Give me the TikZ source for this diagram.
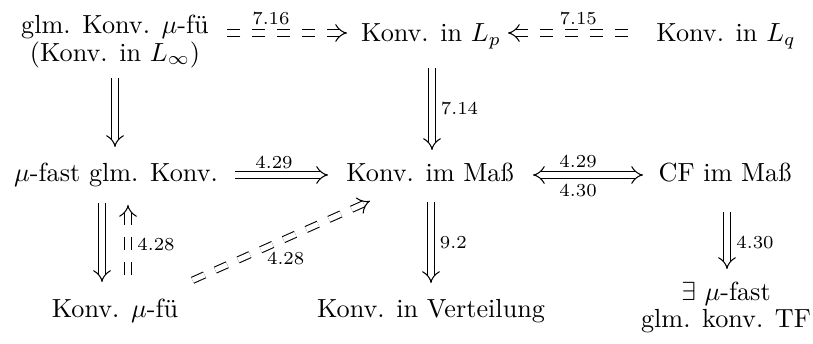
\documentclass[tikz,border=0pt]{standalone}
\usepackage{fontspec}
\usetikzlibrary{arrows.meta,calc}
\begin{document}
\begin{tikzpicture}[x=0.3817pt,y=-0.3817pt,
  obj/.style={inner sep=0pt, outer sep=0pt},
  lbl/.style={inner sep=0pt, font=\scriptsize},
  dbl/.style={double, double distance=2pt, line width=0.4pt, -{Implies}},
  dblr/.style={double, double distance=2pt, line width=0.4pt, {Implies}-},
  dbltwo/.style={double, double distance=2pt, line width=0.4pt, {Implies}-{Implies}},
  dsh/.style={dash pattern=on 5pt off 4.5pt}]
\useasboundingbox (0,0) rectangle (813,344);
% nodes
\node[obj, align=center] (A) at (115,41.2) {glm. Konv. $\mu$-fü\\[-1.4pt](Konv. in $L_\infty$)};
\node[obj, anchor=base] (B) at (431,42) {Konv. in $L_p$};
\node[obj, anchor=base] (C) at (726,42) {Konv. in $L_q$};
\node[obj, anchor=base] (D) at (116,182) {$\mu$-fast glm. Konv.};
\node[obj, anchor=base] (E) at (430,182) {Konv. im Maß};
\node[obj, anchor=base] (F) at (725,182) {CF im Maß};
\node[obj, anchor=base] (G) at (115,318) {Konv. $\mu$-fü};
\node[obj, anchor=base] (H) at (431,318) {Konv. in Verteilung};
\node[obj, align=center] (I) at (726,307.7) {$\exists$ $\mu$-fast\\[-1.5pt]glm. konv. TF};
% arrows (dashed ones are drawn from the tip backwards so a dash meets the head)
\draw[dblr,dsh] ($(B.base)+(-84,-9)$) -- node[lbl, pos=0.613, above=2.8pt] (l716) {7.16} ($(A.center)+(108,-8.2)$);
\draw[dblr,dsh] ($(B.base)+(77,-9)$) -- node[lbl, pos=0.545, above=2.8pt] (l715) {7.15} ($(C.base)+(-89,-9)$);
\draw[dbl] ($(A.center)+(0,36.8)$) -- ($(D.base)+(-1,-35)$);
\draw[dbl] ($(B.base)+(1,26)$) -- node[lbl, pos=0.49, right=3.2pt] (l714) {7.14} ($(E.base)+(2,-32)$);
\draw[dbl] ($(D.base)+(119,-7)$) -- node[lbl, pos=0.42, above=2.3pt] (l429a) {4.29} ($(E.base)+(-102,-7)$);
\draw[dbltwo] ($(E.base)+(103,-7)$) -- node[lbl, pos=0.41, above=2.5pt] (l429b) {4.29}
  node[lbl, pos=0.41, below=3.3pt] (l430a) {4.30} ($(F.base)+(-82,-7)$);
\draw[dbl] ($(D.base)+(-14,21)$) -- ($(G.base)+(-13,-36)$);
\draw[dblr,dsh] ($(D.base)+(12,23)$) -- node[lbl, pos=0.51, right=3.4pt] (l428a) {4.28} ($(G.base)+(13,-35)$);
\draw[dblr,dsh] ($(E.base)+(-60,19)$) -- node[lbl, pos=0.564, anchor=north west, xshift=1pt, yshift=-1.4pt] (l428b) {4.28} ($(G.base)+(67,-33)$);
\draw[dbl] ($(E.base)+(1,20)$) -- node[lbl, pos=0.5, right=3.2pt] (l92) {9.2} ($(H.base)+(0,-35)$);
\draw[dbl] ($(F.base)+(2,30)$) -- node[lbl, pos=0.54, right=3.4pt] (l430b) {4.30} ($(I.center)+(1,-38.7)$);
\end{tikzpicture}
\end{document}
